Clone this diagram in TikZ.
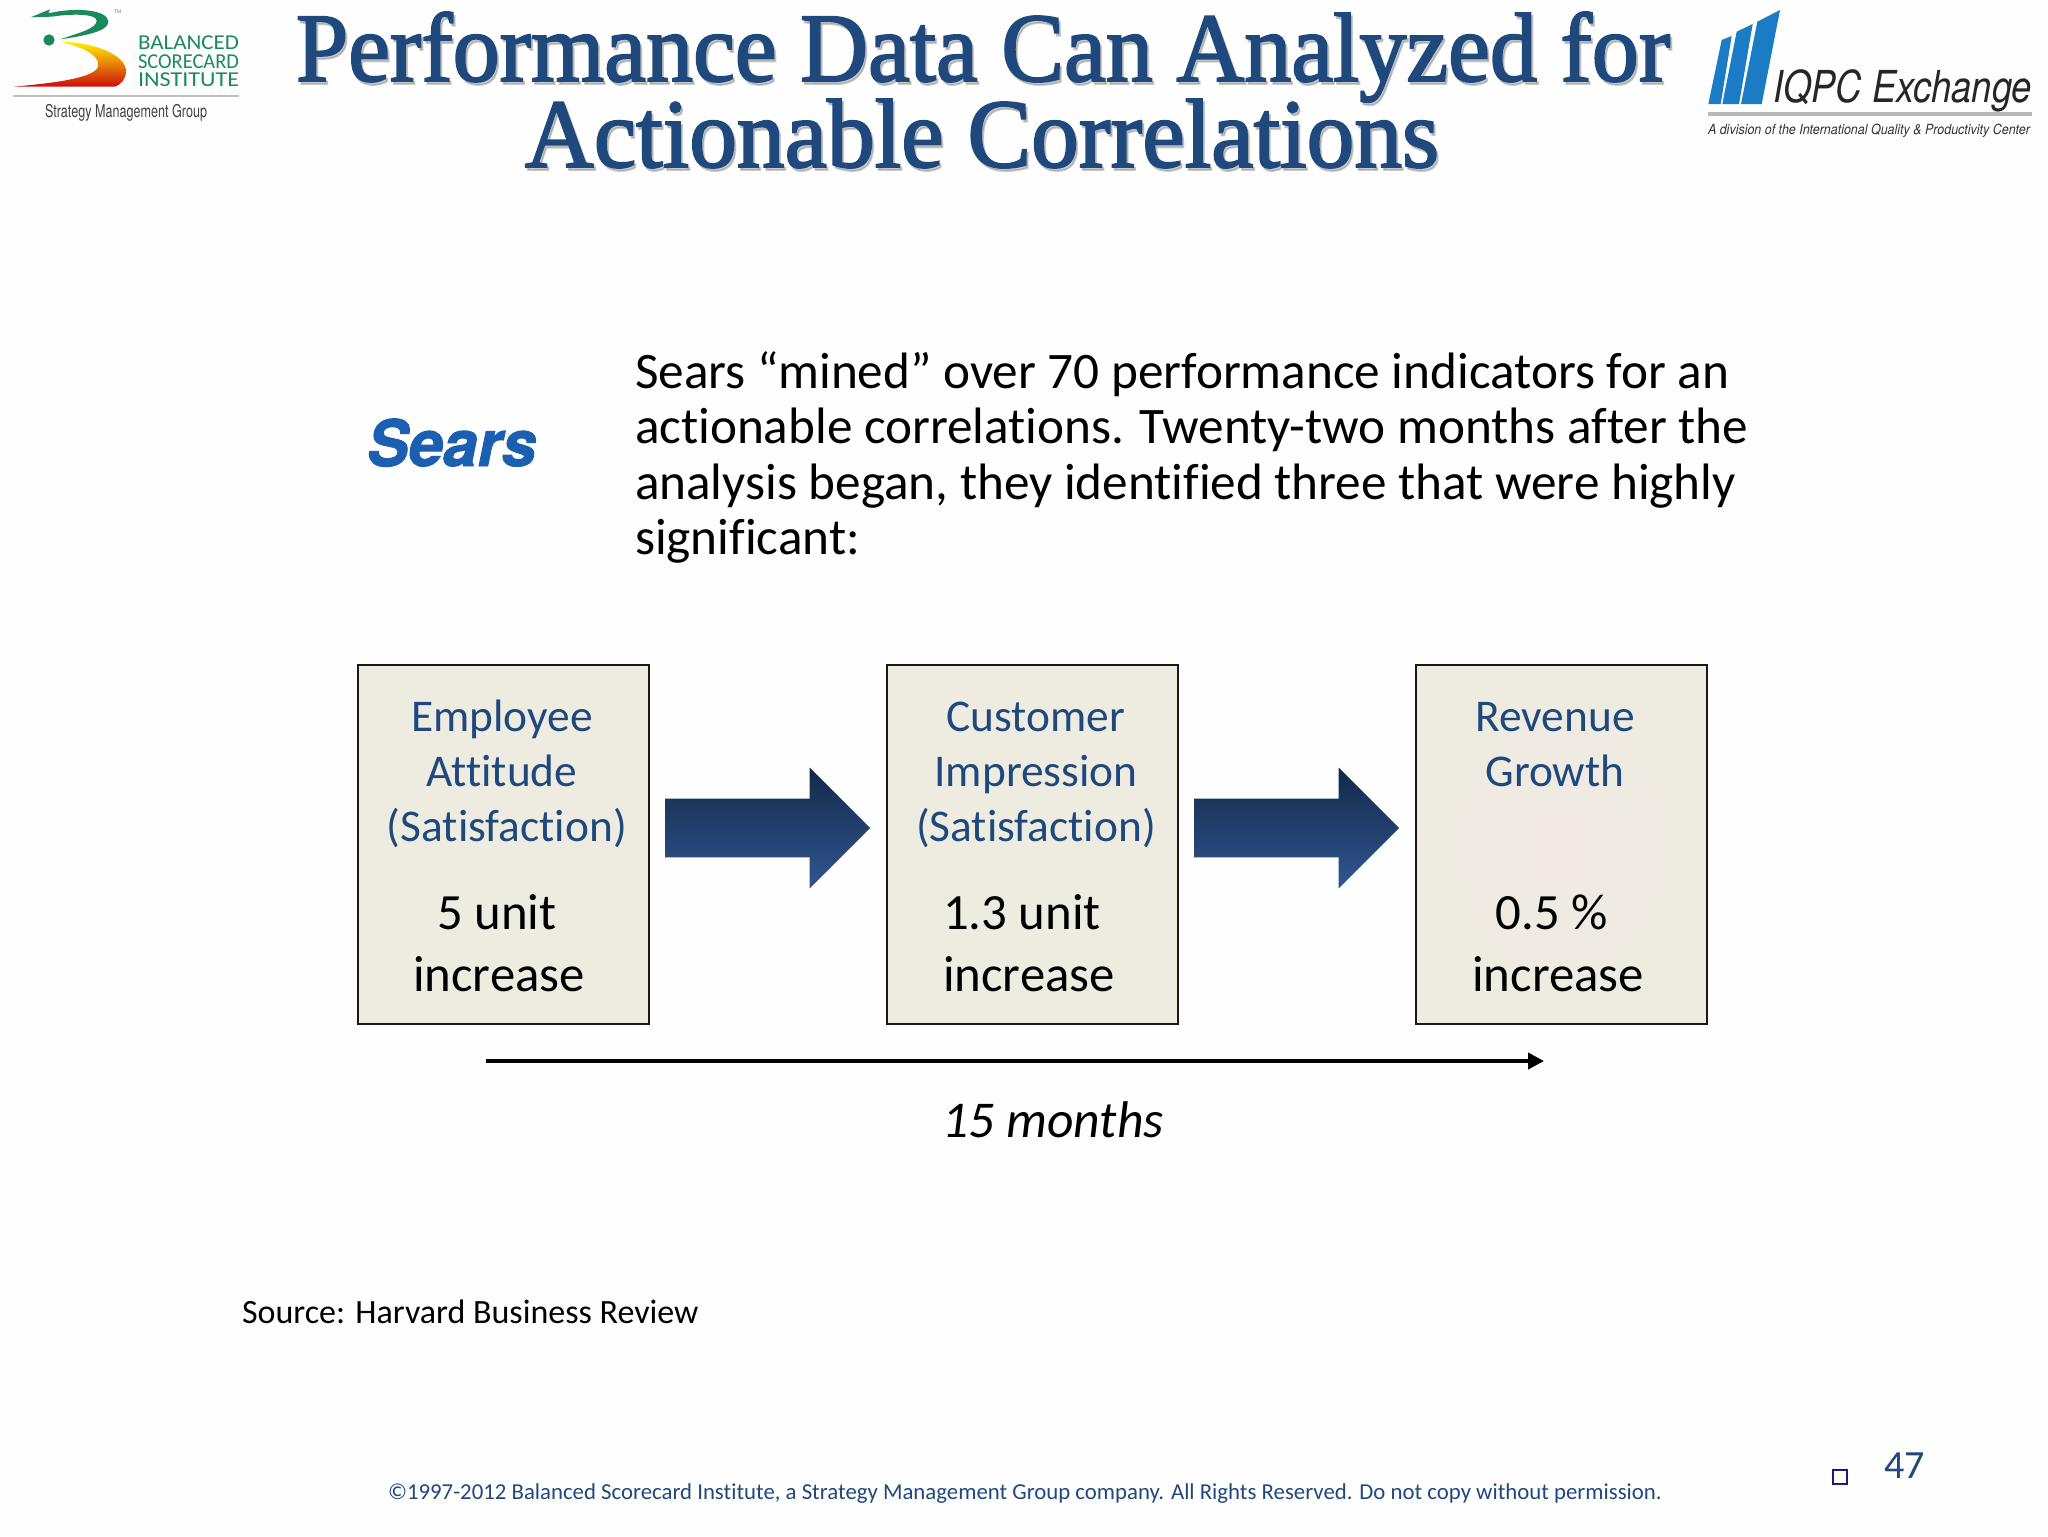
\documentclass[tikz,border=0pt]{standalone}
\usepackage{fontspec}
\usetikzlibrary{arrows.meta,shapes.arrows}
\setmainfont{Carlito}[Ligatures=CommonOff]
\newfontfamily\titlefont{Liberation Serif}[FakeBold=2]
\newfontfamily\hv{TeX Gyre Heros}
\newfontfamily\searsfont{TeX Gyre Heros}[BoldItalicFeatures={FakeBold=1.5}]
\definecolor{navyt}{HTML}{1F497D}
\definecolor{boxfill}{HTML}{EEECE1}
\definecolor{boxpink}{HTML}{F0EAE3}
\definecolor{bscgreen}{HTML}{1B8A5A}
\definecolor{iqblue}{HTML}{1A7CC4}
\definecolor{searsblue}{HTML}{1A5FB0}
\definecolor{arrtop}{HTML}{14294A}
\definecolor{arrbot}{HTML}{305690}
\newcommand{\fitw}[2]{\resizebox{#1}{\height}{#2}}
\tikzset{
  txt/.style={inner sep=0pt,outer sep=0pt,anchor=base},
  txtl/.style={inner sep=0pt,outer sep=0pt,anchor=base west},
  bodytxt/.style={txtl,font=\fontsize{25.6}{27}\selectfont,text=black},
  boxhead/.style={txt,font=\fontsize{22.7}{27}\selectfont,text=navyt},
  boxval/.style={txt,font=\fontsize{25.4}{30}\selectfont,text=black},
  titletxt/.style={txt,font=\titlefont\fontsize{49}{50}\selectfont,text=navyt},
  titleshadow/.style={txt,font=\titlefont\fontsize{49}{50}\selectfont,text=black!50,opacity=.4},
  metric/.style={draw=black!90,line width=1.2pt,fill=boxfill,minimum width=145.5pt,minimum height=179.5pt,inner sep=0pt,outer sep=0pt},
  blockarrow/.style={single arrow,anchor=tip,minimum height=102.5pt,inner xsep=0pt,inner ysep=14.5pt,single arrow head extend=15.5pt,outer sep=0pt,top color=arrtop,bottom color=arrbot},
}
\begin{document}
\begin{tikzpicture}[x=0.5pt,y=-0.5pt]
\useasboundingbox (0,0) rectangle (2048,1536);
\fill[white!99.5!black] (0,0) rectangle (2048,1536);

% BSC logo
\begin{scope}[x=0.16667pt,y=-0.16667pt]
\fill[bscgreen] (92,52) -- (150,28) -- (145,40) .. controls (230,20) and (325,30) .. (325,65)
  .. controls (325,95) and (250,108) .. (180,118) .. controls (240,98) and (290,85) .. (290,62)
  .. controls (290,42) and (220,40) .. (155,50) -- cycle;
\fill[bscgreen] (147,120) circle (17);
\shade[top color=yellow!90!orange,middle color=orange!85!yellow,bottom color=red!80!black!95]
  (180,125) .. controls (280,125) and (380,165) .. (378,215) .. controls (377,240) and (360,255) .. (345,260)
  -- (40,260) .. controls (150,250) and (295,235) .. (295,195) .. controls (295,160) and (240,140) .. (180,125) -- cycle;
\fill[black!25] (40,285) rectangle (716,291);
\end{scope}
\node[txtl,font=\hv\fontsize{2.5}{3}\selectfont,text=black!50] (tm) at (114,14) {TM};
\node[txtl,font=\fontsize{10.6}{12}\selectfont,text=bscgreen] (bsc1) at (138,50) {\fitw{50.5pt}{BALANCED}};
\node[txtl,font=\fontsize{10.6}{12}\selectfont,text=bscgreen] (bsc2) at (138,69) {\fitw{50.5pt}{SCORECARD}};
\node[txtl,font=\fontsize{10.6}{12}\selectfont,text=bscgreen] (bsc3) at (138,87) {\fitw{50.5pt}{INSTITUTE}};
\node[txtl,font=\hv\fontsize{8.8}{10}\selectfont,text=black!75] (smg) at (45,117) {\fitw{81pt}{Strategy Management Group}};

% IQPC logo
\begin{scope}[shift={(1680,0)},x=0.16667pt,y=-0.16667pt]
\fill[iqblue] (85,312) -- (125,120) -- (155,108) -- (122,312) -- cycle;
\fill[iqblue] (127,312) -- (170,95) -- (218,72) -- (177,312) -- cycle;
\fill[iqblue] (183,312) -- (232,65) -- (300,30) -- (245,312) -- cycle;
\fill[black!28] (85,336) rectangle (1055,348);
\end{scope}
\node[txtl,font=\hv\itshape\fontsize{22}{26}\selectfont,text=black!85] (iqpc) at (1773,103) {\fitw{129.5pt}{IQPC Exchange}};
\node[txtl,font=\hv\itshape\fontsize{7}{8}\selectfont,text=black!80] (iqdiv) at (1708,134) {\fitw{161pt}{A division of the International  Quality \& Productivity Center}};

% Title
\node[titleshadow] (ts1) at (985,84) {\fitw{687pt}{Performance Data Can Analyzed for}};
\node[titleshadow] (ts2) at (984,170) {\fitw{457pt}{Actionable Correlations}};
\node[titletxt] (t1) at (983,81) {\fitw{687pt}{Performance Data Can Analyzed for}};
\node[titletxt] (t2) at (982,167) {\fitw{457pt}{Actionable Correlations}};

% Sears
\node[txtl,font=\searsfont\bfseries\itshape\fontsize{32}{36}\selectfont,text=searsblue] (sears) at (367,466) {\fitw{84.5pt}{Sears}};

% Body
\node[bodytxt] (b1) at (635,388) {Sears “mined” over 70 performance indicators for an};
\node[bodytxt] (b2) at (635,443) {actionable correlations. Twenty-two months after the};
\node[bodytxt] (b3) at (635,499) {analysis began, they identified three that were highly};
\node[bodytxt] (b4) at (635,554) {significant:};

% Boxes
\node[metric] (box1) at (503.5,844.5) {};
\node[metric] (box2) at (1032.5,844.5) {};
\node[metric,inner color=boxpink,outer color=boxfill] (box3) at (1561.5,844.5) {};

\node[blockarrow] (arr1) at (870,828) {};
\node[blockarrow] (arr2) at (1399,828) {};

\node[boxhead] (h11) at (502,731) {Employee};
\node[boxhead] (h12) at (502,786) {Attitude};
\node[boxhead] (h13) at (507,841) {(Satisfaction)};
\node[boxval] (v11) at (497,929) {5 unit};
\node[boxval] (v12) at (499,991) {increase};

\node[boxhead] (h21) at (1036,731) {Customer};
\node[boxhead] (h22) at (1036,786) {Impression};
\node[boxhead] (h23) at (1036,841) {(Satisfaction)};
\node[boxval] (v21) at (1022,929) {1.3 unit};
\node[boxval] (v22) at (1029,991) {increase};

\node[boxhead] (h31) at (1555,731) {Revenue};
\node[boxhead] (h32) at (1555,786) {Growth};
\node[boxval] (v31) at (1552,929) {0.5 \%};
\node[boxval] (v32) at (1558,991) {increase};

% Timeline
\coordinate (tl0) at (486,1061);
\coordinate (tl1) at (1544,1061);
\draw[line width=2pt,-{Triangle[length=8pt,width=8pt]}] (tl0) -- (tl1);
\node[txt,font=\itshape\fontsize{25.8}{30}\selectfont] (months) at (1053,1137) {15 months};

\node[txtl,font=\fontsize{17}{20}\selectfont] (src) at (242,1323) {Source: Harvard Business Review};
\node[txtl,font=\fontsize{11.4}{14}\selectfont,text=navyt] (foot) at (388,1499) {©1997-2012 Balanced Scorecard Institute, a Strategy Management Group company. All Rights Reserved. Do not copy without permission.};
\node[txtl,font=\fontsize{20}{22}\selectfont,text=navyt] (pg) at (1884,1478) {47};
\node[draw={rgb,255:red,26;green,26;blue,122},line width=1.2pt,fill=white,minimum size=7pt,inner sep=0pt] (sq) at (1840,1477) {};
\end{tikzpicture}
\end{document}
